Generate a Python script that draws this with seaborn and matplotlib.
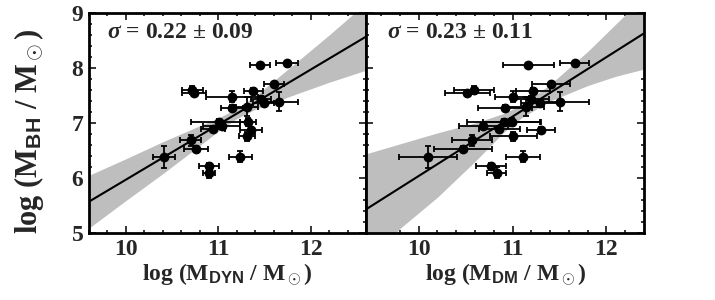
import numpy as np
import matplotlib
matplotlib.use("Agg")
import matplotlib.pyplot as plt
import pandas as pd
import seaborn as sns
from matplotlib.ticker import MultipleLocator

# ---------------- data ----------------
log_mbh = [6.38, 6.69, 6.53, 7.60, 7.54, 6.21, 6.10, 6.90, 7.02, 6.95, 7.48, 7.27,
           6.39, 7.30, 7.02, 6.76, 6.87, 7.58, 8.05, 7.44, 7.36, 7.71, 7.39, 8.10]
log_mbh_err = [0.20, 0.10, 0.05, 0.08, 0.04, 0.06, 0.10, 0.05, 0.05, 0.05, 0.10, 0.05,
               0.10, 0.18, 0.08, 0.08, 0.05, 0.05, 0.03, 0.05, 0.05, 0.04, 0.17, 0.03]

log_mdyn = [10.41, 10.70, 10.76, 10.72, 10.74, 10.90, 10.90, 10.94, 11.01, 11.04, 11.15, 11.15,
            11.24, 11.31, 11.32, 11.31, 11.35, 11.38, 11.45, 11.46, 11.49, 11.60, 11.66, 11.74]
log_mdyn_err = [0.12, 0.11, 0.13, 0.11, 0.13, 0.11, 0.06, 0.13, 0.30, 0.20, 0.28, 0.12,
                0.12, 0.12, 0.09, 0.09, 0.12, 0.10, 0.11, 0.11, 0.11, 0.11, 0.20, 0.12]

log_mdm = [10.10, 10.57, 10.47, 10.59, 10.52, 10.77, 10.83, 10.86, 10.91, 10.69, 11.01, 10.92,
           11.11, 11.14, 10.99, 11.01, 11.30, 11.22, 11.17, 11.20, 11.29, 11.41, 11.51, 11.66]
log_mdm_err = [0.31, 0.21, 0.31, 0.21, 0.24, 0.16, 0.10, 0.22, 0.39, 0.26, 0.20, 0.29,
               0.18, 0.20, 0.30, 0.25, 0.15, 0.18, 0.27, 0.19, 0.20, 0.20, 0.30, 0.15]

# best fit lines and confidence bands
fit_x_dyn = [9.6, 12.6]
fit_y_dyn = [5.57, 8.57]
band_x_dyn = [9.6, 10.0, 10.4, 10.8, 11.0, 11.2, 11.4, 11.8, 12.2, 12.6]
band_hi_dyn = [6.05, 6.35, 6.66, 6.95, 7.09, 7.26, 7.49, 8.04, 8.60, 9.18]
band_lo_dyn = [5.09, 5.59, 6.08, 6.59, 6.85, 7.08, 7.25, 7.50, 7.74, 7.96]

fit_x_dm = [9.44, 12.4]
fit_y_dm = [5.43, 8.63]
band_x_dm = [9.44, 9.8, 10.2, 10.6, 10.9, 11.1, 11.4, 11.8, 12.1, 12.4]
band_hi_dm = [6.44, 6.62, 6.82, 7.00, 7.17, 7.33, 7.70, 8.30, 8.80, 9.30]
band_lo_dm = [4.45, 5.08, 5.65, 6.30, 6.82, 7.10, 7.40, 7.68, 7.85, 7.98]

sigma_text = [r'$\sigma$ = 0.22 $\pm$ 0.09', r'$\sigma$ = 0.23 $\pm$ 0.11']
xlabels = [r'log (M$_\mathsf{DYN}$ / M$_\odot$)', r'log (M$_\mathsf{DM}$ / M$_\odot$)']
ylabel = r'log (M$_\mathsf{BH}$ / M$_\odot$)'

# ---------------- style ----------------
sns.set_style("ticks")
plt.rcParams['font.family'] = ['Liberation Serif', 'DejaVu Serif']
plt.rcParams['font.weight'] = 'bold'
plt.rcParams['mathtext.fontset'] = 'custom'
plt.rcParams['mathtext.rm'] = 'Liberation Serif:bold'
plt.rcParams['mathtext.bf'] = 'Liberation Serif:bold'
plt.rcParams['mathtext.it'] = 'Liberation Serif:italic'
plt.rcParams['mathtext.sf'] = 'Liberation Sans'

fig = plt.figure(figsize=(7.15, 3.0), dpi=100)
ax1 = fig.add_axes([89/715, 67/300, 277/715, 220/300])
ax2 = fig.add_axes([366/715, 67/300, 278/715, 220/300])

panels = [
    (ax1, log_mdyn, log_mdyn_err, fit_x_dyn, fit_y_dyn, band_x_dyn, band_lo_dyn, band_hi_dyn, (9.6, 12.6)),
    (ax2, log_mdm, log_mdm_err, fit_x_dm, fit_y_dm, band_x_dm, band_lo_dm, band_hi_dm, (9.44, 12.4)),
]

for i, (ax, xv, xe, fx, fy, bx, blo, bhi, xlim) in enumerate(panels):
    df = pd.DataFrame({'x': xv, 'y': log_mbh})
    ax.fill_between(bx, blo, bhi, color='#bebebe', lw=0, zorder=1)
    sns.lineplot(x=fx, y=fy, ax=ax, color='black', lw=1.5, zorder=2)
    ax.errorbar(xv, log_mbh, xerr=xe, yerr=log_mbh_err, fmt='none', ecolor='black',
                elinewidth=1.3, capsize=2.5, capthick=1.3, zorder=3)
    sns.scatterplot(data=df, x='x', y='y', ax=ax, color='black', s=50,
                    edgecolor='black', linewidth=0, zorder=4)
    ax.set_xlim(*xlim)
    ax.set_ylim(5, 9)
    ax.xaxis.set_major_locator(MultipleLocator(1))
    ax.xaxis.set_minor_locator(MultipleLocator(0.2))
    ax.yaxis.set_major_locator(MultipleLocator(1))
    ax.yaxis.set_minor_locator(MultipleLocator(0.2))
    ax.tick_params(which='both', direction='in', top=True, right=True, width=1.3)
    ax.tick_params(which='major', length=5, labelsize=17, pad=4)
    ax.tick_params(which='minor', length=2.5)
    for sp in ax.spines.values():
        sp.set_linewidth(2)
        sp.set_color('black')
    ax.set_xlabel(xlabels[i], fontsize=17, fontweight='bold', labelpad=2)
    ax.text(0.065 if i == 0 else 0.074, 0.91, sigma_text[i], transform=ax.transAxes,
            fontsize=17, fontweight='bold', va='center', ha='left')

ax1.set_ylabel(ylabel, fontsize=22, fontweight='bold')
ax1.yaxis.set_label_coords(-0.155, 0.46)
ax2.set_ylabel('')
ax2.set_yticklabels([])

fig.savefig('out.png', dpi=100)
